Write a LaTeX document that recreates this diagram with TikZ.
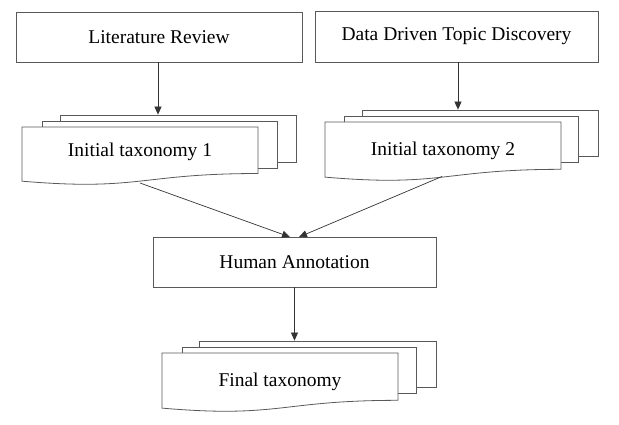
\documentclass[tikz,border=0pt]{standalone}
\usepackage{fontspec}
\setmainfont{Liberation Serif}
\usetikzlibrary{arrows.meta}
\begin{document}
\begin{tikzpicture}[x=1pt,y=-1pt,
  box/.style={draw=black!65, line width=0.8pt, fill=white, inner sep=0pt},
  sheet/.style={draw=black!65, line width=0.8pt, fill=white, inner sep=0pt},
  lbl/.style={font=\fontsize{19.5}{23}\selectfont, inner sep=0pt},
  conn/.style={draw=black!80, line width=0.7pt, -{Triangle[length=8pt,width=7pt]}}]
\useasboundingbox (0,0) rectangle (619,424);
\newcommand{\docsheet}[4]{%
  \draw[draw=black!65, line width=0.8pt, fill=white] (#1,#2) -- ({#1+#3},#2) -- ({#1+#3},{#2+0.802*#4})
    .. controls ({#1+0.5*#3},{#2+0.802*#4}) and ({#1+0.5*#3},{#2+1.107*#4}) .. (#1,{#2+0.934*#4}) -- cycle;}

% top boxes
\node[box, minimum width=286pt, minimum height=50pt] (lr) at (159,37) {};
\node[lbl] at (lr.center) {Literature Review};
\node[box, minimum width=283pt, minimum height=51pt] (dd) at (456.5,36.5) {};
\node[lbl] at (dd.center) {Data Driven Topic Discovery};

% stack 1
\node[sheet, minimum width=236pt, minimum height=47pt] (s1c) at (178,138.5) {};
\node[sheet, minimum width=235pt, minimum height=47pt] (s1b) at (159.5,144.5) {};
\docsheet{22}{127}{236}{58}
\node[lbl] (t1) at (140,152) {Initial taxonomy 1};
\coordinate (t1b) at (140,183);

% stack 2
\node[sheet, minimum width=236pt, minimum height=46pt] (s2c) at (480,133) {};
\node[sheet, minimum width=234pt, minimum height=46pt] (s2b) at (461,139) {};
\docsheet{325}{122}{236}{59}
\node[lbl] (t2) at (443,151) {Initial taxonomy 2};
\coordinate (t2b) at (442,176.5);

% human annotation
\node[box, minimum width=283pt, minimum height=50pt] (ha) at (294.5,262) {};
\node[lbl] at (ha.center) {Human Annotation};
\coordinate (ha1) at (290,237);
\coordinate (ha2) at (299,237);

% stack 3
\node[sheet, minimum width=237pt, minimum height=46pt] (s3c) at (317.5,364) {};
\node[sheet, minimum width=234pt, minimum height=46pt] (s3b) at (299,370) {};
\docsheet{162}{353}{236}{59}
\node[lbl] (t3) at (280,382) {Final taxonomy};

% connectors
\draw[conn] (lr.south -| 158,0) -- (158,0 |- s1c.north);
\draw[conn] (dd.south -| 458,0) -- (458,0 |- s2c.north);
\draw[conn] (t1b) -- (ha1);
\draw[conn] (t2b) -- (ha2);
\draw[conn] (ha.south) -- (ha.south |- s3c.north);
\end{tikzpicture}
\end{document}
